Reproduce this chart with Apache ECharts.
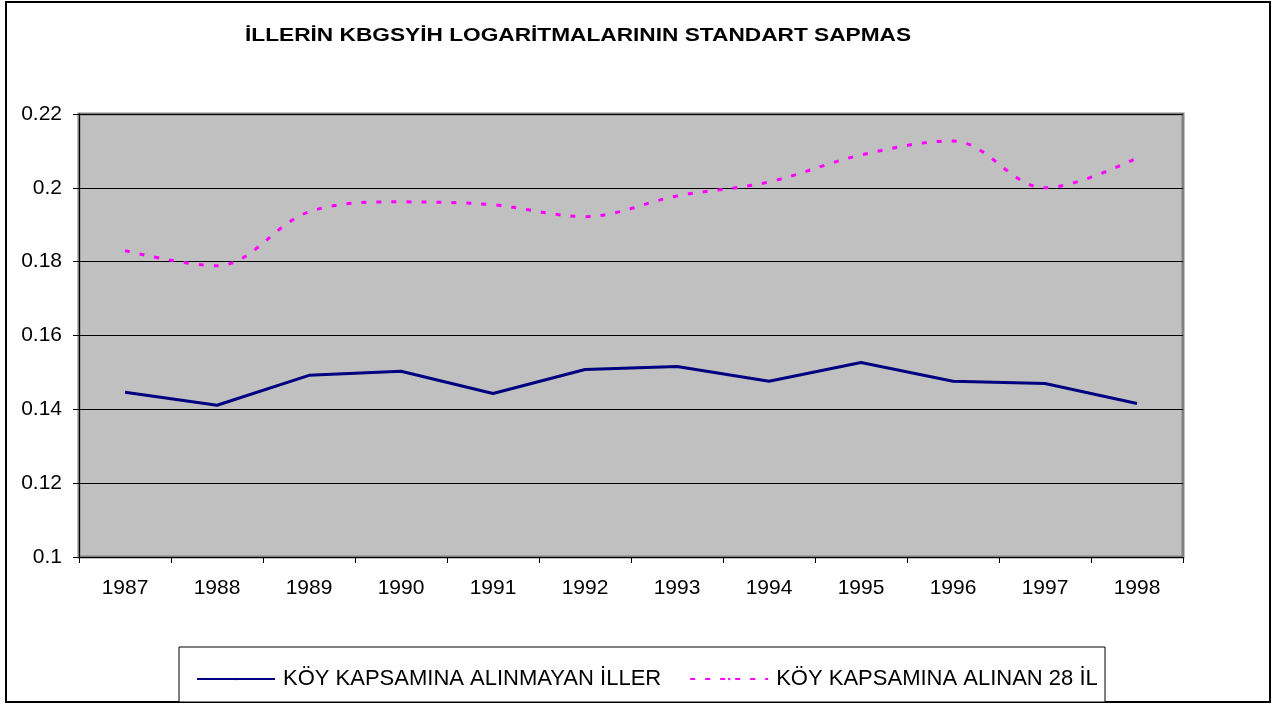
<!DOCTYPE html>
<html><head><meta charset="utf-8">
<script src="https://cdn.jsdelivr.net/npm/echarts@6/dist/echarts.min.js"></script>
<style>html,body{margin:0;padding:0;background:#fff}#c{width:1272px;height:704px}</style>
</head><body><div id="c"></div>
<script>
var years = ['1987','1988','1989','1990','1991','1992','1993','1994','1995','1996','1997','1998'];
var notIncluded = [0.1446,0.1411,0.1492,0.1503,0.1443,0.1508,0.1516,0.1476,0.1527,0.1476,0.1470,0.1416];
var included28 = [0.1830,0.1789,0.1935,0.1962,0.1954,0.1922,0.1978,0.2016,0.2089,0.2127,0.2000,0.2081];
var seriesNames = ['KÖY KAPSAMINA ALINMAYAN İLLER','KÖY KAPSAMINA ALINAN 28 İL'];
var titleText = 'İLLERİN KBGSYİH LOGARİTMALARININ STANDART SAPMAS';

var chart = echarts.init(document.getElementById('c'));
var font = 'Arial, "Liberation Sans", sans-serif';
chart.setOption({
  animation:false,
  backgroundColor:'#fff',
  graphic:[
    {type:'rect',shape:{x:6,y:2,width:1264,height:700},style:{fill:'none',stroke:'#000',lineWidth:2},z:-1},
    {type:'rect',shape:{x:179,y:647,width:926,height:55},style:{fill:'#fff',stroke:'#000',lineWidth:1},z:0},
    {type:'text',x:245,y:27,scaleX:1.26,originX:0,originY:0,
      style:{text:titleText,font:'bold 18px Arial, "Liberation Sans", sans-serif',fill:'#000',textVerticalAlign:'top'},z:10}
  ],
  legend:{
    left:191,top:663,itemWidth:78,itemHeight:3,itemGap:28,
    textStyle:{fontFamily:font,fontSize:22,color:'#000',padding:[0,0,0,3]},
    data:[{name:seriesNames[0]},{name:seriesNames[1]}],
    z:5
  },
  grid:{left:79,right:89,top:114,bottom:147,show:true,backgroundColor:'#c0c0c0',borderColor:'#808080',borderWidth:3},
  xAxis:{type:'category',data:years,boundaryGap:true,
    axisLine:{lineStyle:{color:'#000',width:1}},
    axisTick:{show:true,length:6,lineStyle:{color:'#000'}},
    axisLabel:{fontFamily:font,fontSize:21,color:'#000',margin:21}},
  yAxis:{type:'value',min:0.1,max:0.22,interval:0.02,
    axisLine:{show:true,lineStyle:{color:'#000',width:1}},
    axisTick:{show:true,length:6,lineStyle:{color:'#000'}},
    axisLabel:{fontFamily:font,fontSize:21,color:'#000',margin:17,formatter:function(v){return String(Math.round(v*100)/100);}},
    splitLine:{lineStyle:{color:'#000',width:1}}},
  series:[
    {name:seriesNames[0],type:'line',data:notIncluded,symbol:'none',lineStyle:{color:'#000080',width:3},itemStyle:{color:'#000080'}},
    {name:seriesNames[1],type:'line',data:included28,symbol:'none',smooth:0.35,lineStyle:{color:'#ff00ff',width:3,type:[5,10]},itemStyle:{color:'#ff00ff'}}
  ]
});
</script></body></html>
